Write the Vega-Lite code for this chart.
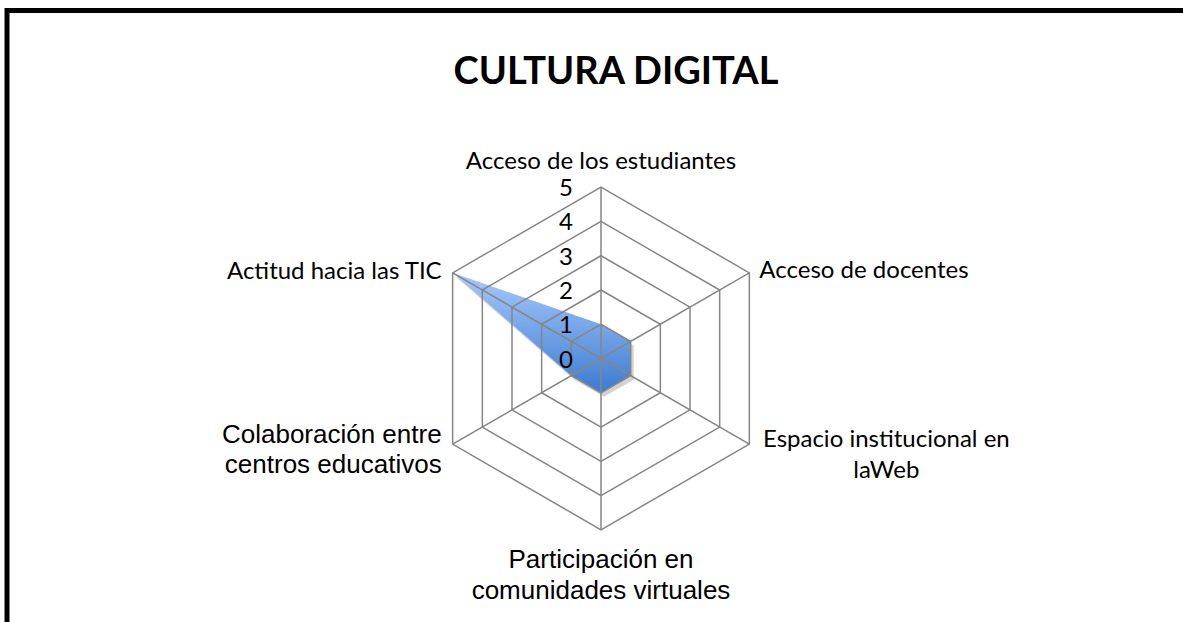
{
  "$schema": "https://vega.github.io/schema/vega-lite/v6.json",
  "width": 1218,
  "height": 640,
  "autosize": {"type": "none"},
  "padding": {"left": 7, "top": 10.5, "right": 0, "bottom": 0},
  "background": "white",
  "config": {
    "view": {"stroke": "black", "strokeWidth": 5},
    "text": {"color": "black"}
  },
  "title": {
    "text": "CULTURA DIGITAL",
    "font": "Lato",
    "fontWeight": "bold",
    "fontSize": 38,
    "color": "black",
    "anchor": "middle",
    "frame": "group",
    "offset": -111,
    "baseline": "alphabetic"
  },
  "datasets": {
    "puntajes": [
      {"categoria": "Acceso de los estudiantes", "valor": 1},
      {"categoria": "Acceso de docentes", "valor": 1},
      {"categoria": "Espacio institucional en\nlaWeb", "valor": 1},
      {"categoria": "Participación en\ncomunidades virtuales", "valor": 1},
      {"categoria": "Colaboración entre\ncentros educativos", "valor": 1},
      {"categoria": "Actitud hacia las TIC", "valor": 5}
    ],
    "niveles": [
      {"nivel": 0}, {"nivel": 1}, {"nivel": 2}, {"nivel": 3}, {"nivel": 4}, {"nivel": 5}
    ]
  },
  "data": {"name": "puntajes"},
  "transform": [
    {"window": [{"op": "row_number", "as": "orden"}]},
    {"calculate": "(datum.orden - 1) * PI / 3", "as": "ang"},
    {"calculate": "datum.valor * sin(datum.ang)", "as": "px"},
    {"calculate": "datum.valor * cos(datum.ang)", "as": "py"},
    {"calculate": "5 * sin(datum.ang)", "as": "px5"},
    {"calculate": "5 * cos(datum.ang)", "as": "py5"},
    {"calculate": "0", "as": "cero"}
  ],
  "layer": [
    {
      "mark": {"type": "line", "interpolate": "linear-closed", "fill": "#303030", "fillOpacity": 0.22, "strokeWidth": 0, "xOffset": 3, "yOffset": 4},
      "encoding": {
        "x": {"field": "px", "type": "quantitative", "scale": {"domain": [-17.338, 18.214], "nice": false, "zero": false}, "axis": null},
        "y": {"field": "py", "type": "quantitative", "scale": {"domain": [-8.523, 10.158], "nice": false, "zero": false}, "axis": null},
        "order": {"field": "orden", "type": "quantitative"}
      }
    },
    {
      "mark": {
        "type": "line",
        "interpolate": "linear-closed",
        "strokeWidth": 0,
        "fill": {
          "gradient": "linear",
          "x1": 0, "y1": 0, "x2": 0, "y2": 1,
          "stops": [
            {"offset": 0, "color": "#a9c9fa"},
            {"offset": 1, "color": "#3b7bd1"}
          ]
        }
      },
      "encoding": {
        "x": {"field": "px", "type": "quantitative", "scale": {"domain": [-17.338, 18.214], "nice": false, "zero": false}, "axis": null},
        "y": {"field": "py", "type": "quantitative", "scale": {"domain": [-8.523, 10.158], "nice": false, "zero": false}, "axis": null},
        "order": {"field": "orden", "type": "quantitative"}
      }
    },
    {
      "transform": [
        {"calculate": "[1, 2, 3, 4, 5]", "as": "niv"},
        {"flatten": ["niv"]},
        {"calculate": "datum.niv * sin(datum.ang)", "as": "gx"},
        {"calculate": "datum.niv * cos(datum.ang)", "as": "gy"}
      ],
      "mark": {"type": "line", "interpolate": "linear-closed", "color": "#868686", "strokeWidth": 1.5},
      "encoding": {
        "x": {"field": "gx", "type": "quantitative", "scale": {"domain": [-17.338, 18.214], "nice": false, "zero": false}, "axis": null},
        "y": {"field": "gy", "type": "quantitative", "scale": {"domain": [-8.523, 10.158], "nice": false, "zero": false}, "axis": null},
        "detail": {"field": "niv", "type": "nominal"},
        "order": {"field": "orden", "type": "quantitative"}
      }
    },
    {
      "mark": {"type": "rule", "color": "#868686", "strokeWidth": 1.5},
      "encoding": {
        "x": {"field": "cero", "type": "quantitative", "scale": {"domain": [-17.338, 18.214], "nice": false, "zero": false}, "axis": null},
        "y": {"field": "cero", "type": "quantitative", "scale": {"domain": [-8.523, 10.158], "nice": false, "zero": false}, "axis": null},
        "x2": {"field": "px5"},
        "y2": {"field": "py5"}
      }
    },
    {
      "data": {"name": "niveles"},
      "transform": [{"calculate": "0", "as": "cero"}],
      "mark": {"type": "text", "font": "Lato", "fontSize": 24, "align": "right", "baseline": "middle", "dx": -28, "dy": 2},
      "encoding": {
        "x": {"field": "cero", "type": "quantitative", "scale": {"domain": [-17.338, 18.214], "nice": false, "zero": false}, "axis": null},
        "y": {"field": "nivel", "type": "quantitative", "scale": {"domain": [-8.523, 10.158], "nice": false, "zero": false}, "axis": null},
        "text": {"field": "nivel", "type": "nominal"}
      }
    },
    {
      "transform": [{"filter": "datum.orden == 1"}],
      "mark": {"type": "text", "font": "Lato", "fontSize": 24, "align": "center", "baseline": "alphabetic", "dy": -18},
      "encoding": {
        "x": {"field": "px5", "type": "quantitative", "scale": {"domain": [-17.338, 18.214], "nice": false, "zero": false}, "axis": null},
        "y": {"field": "py5", "type": "quantitative", "scale": {"domain": [-8.523, 10.158], "nice": false, "zero": false}, "axis": null},
        "text": {"field": "categoria", "type": "nominal"}
      }
    },
    {
      "transform": [{"filter": "datum.orden == 2"}],
      "mark": {"type": "text", "font": "Lato", "fontSize": 24, "align": "left", "baseline": "alphabetic", "dx": 10, "dy": 5},
      "encoding": {
        "x": {"field": "px5", "type": "quantitative", "scale": {"domain": [-17.338, 18.214], "nice": false, "zero": false}, "axis": null},
        "y": {"field": "py5", "type": "quantitative", "scale": {"domain": [-8.523, 10.158], "nice": false, "zero": false}, "axis": null},
        "text": {"field": "categoria", "type": "nominal"}
      }
    },
    {
      "transform": [{"filter": "datum.orden == 3"}],
      "mark": {"type": "text", "font": "Lato", "fontSize": 24, "align": "center", "baseline": "alphabetic", "dx": 137, "dy": 3, "lineHeight": 31, "lineBreak": "\n"},
      "encoding": {
        "x": {"field": "px5", "type": "quantitative", "scale": {"domain": [-17.338, 18.214], "nice": false, "zero": false}, "axis": null},
        "y": {"field": "py5", "type": "quantitative", "scale": {"domain": [-8.523, 10.158], "nice": false, "zero": false}, "axis": null},
        "text": {"field": "categoria", "type": "nominal"}
      }
    },
    {
      "transform": [{"filter": "datum.orden == 4"}],
      "mark": {"type": "text", "font": "Liberation Sans", "fontSize": 26, "align": "center", "baseline": "alphabetic", "dy": 38, "lineHeight": 31, "lineBreak": "\n"},
      "encoding": {
        "x": {"field": "px5", "type": "quantitative", "scale": {"domain": [-17.338, 18.214], "nice": false, "zero": false}, "axis": null},
        "y": {"field": "py5", "type": "quantitative", "scale": {"domain": [-8.523, 10.158], "nice": false, "zero": false}, "axis": null},
        "text": {"field": "categoria", "type": "nominal"}
      }
    },
    {
      "transform": [{"filter": "datum.orden == 5"}],
      "mark": {"type": "text", "font": "Liberation Sans", "fontSize": 26, "align": "right", "baseline": "alphabetic", "dx": -11, "dy": -1, "lineHeight": 30, "lineBreak": "\n"},
      "encoding": {
        "x": {"field": "px5", "type": "quantitative", "scale": {"domain": [-17.338, 18.214], "nice": false, "zero": false}, "axis": null},
        "y": {"field": "py5", "type": "quantitative", "scale": {"domain": [-8.523, 10.158], "nice": false, "zero": false}, "axis": null},
        "text": {"field": "categoria", "type": "nominal"}
      }
    },
    {
      "transform": [{"filter": "datum.orden == 6"}],
      "mark": {"type": "text", "font": "Lato", "fontSize": 24, "align": "right", "baseline": "alphabetic", "dx": -11, "dy": 6},
      "encoding": {
        "x": {"field": "px5", "type": "quantitative", "scale": {"domain": [-17.338, 18.214], "nice": false, "zero": false}, "axis": null},
        "y": {"field": "py5", "type": "quantitative", "scale": {"domain": [-8.523, 10.158], "nice": false, "zero": false}, "axis": null},
        "text": {"field": "categoria", "type": "nominal"}
      }
    }
  ]
}
